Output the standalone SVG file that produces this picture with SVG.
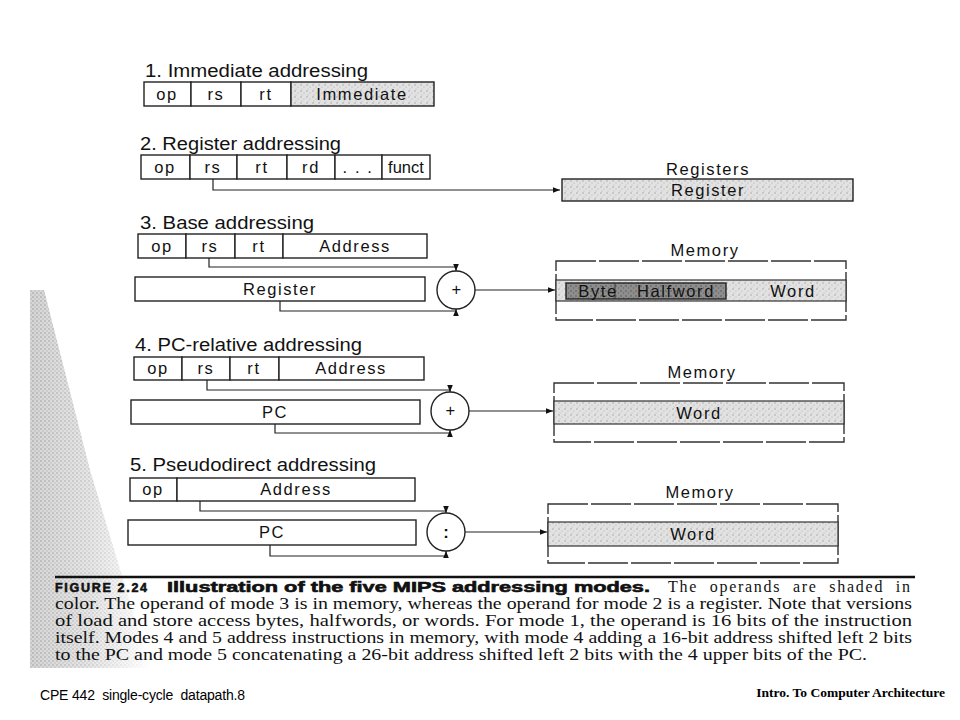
<svg xmlns="http://www.w3.org/2000/svg" width="960" height="720" viewBox="0 0 960 720">
<defs>
<pattern id="stip" width="6" height="6" patternUnits="userSpaceOnUse">
<rect width="6" height="6" fill="#e2e2e2"/>
<circle cx="1" cy="1" r="0.7" fill="#9a9a9a"/>
<circle cx="4" cy="3" r="0.6" fill="#aaaaaa"/>
<circle cx="2" cy="5" r="0.5" fill="#b0b0b0"/>
</pattern>
<pattern id="stipDark" width="5" height="5" patternUnits="userSpaceOnUse">
<rect width="5" height="5" fill="#8e8e8e"/>
<circle cx="1" cy="1" r="0.8" fill="#555"/>
<circle cx="3.5" cy="3" r="0.7" fill="#666"/>
</pattern>
<pattern id="edgeDots" width="4" height="4" patternUnits="userSpaceOnUse">
<circle cx="1" cy="1" r="0.8" fill="#999"/>
<circle cx="3" cy="3" r="0.7" fill="#aaa"/>
</pattern>
<linearGradient id="fade" x1="0" y1="0" x2="1" y2="0">
<stop offset="0" stop-color="#fff"/>
<stop offset="0.5" stop-color="#999"/>
<stop offset="1" stop-color="#000"/>
</linearGradient>
<mask id="fadeMask" maskContentUnits="userSpaceOnUse">
<rect x="30" y="290" width="120" height="380" fill="url(#fade)"/>
</mask>
<marker id="arr" viewBox="0 0 10 10" refX="10" refY="5" markerWidth="7" markerHeight="7" orient="auto" markerUnits="userSpaceOnUse">
<path d="M0,1 L10,5 L0,9 z" fill="#111"/>
</marker>
</defs>
<style>
.t{font-family:"Liberation Sans",Arial,sans-serif;font-size:16.5px;fill:#111;letter-spacing:1.6px}
.h{font-family:"Liberation Sans",Arial,sans-serif;font-size:17.5px;fill:#111}
.c{text-anchor:middle}
.b{fill:#fff;stroke:#222;stroke-width:1.4}
.s{fill:url(#stip);stroke:#222;stroke-width:1.4}
.mem{fill:#fff;stroke:#333;stroke-width:1.4;stroke-dasharray:40 3}
.w{stroke:#222;stroke-width:1.2;fill:none}
.cap{font-family:"Liberation Serif","Times New Roman",serif;font-size:16px;fill:#111}
.capb{font-family:"Liberation Sans",Arial,sans-serif;font-size:14.5px;font-weight:bold;fill:#111;stroke:#111;stroke-width:0.6}
</style>
<rect width="960" height="720" fill="#fff"/>
<polygon points="30,290 44,290 90,470 150,668 30,668" fill="#d6d6d6" mask="url(#fadeMask)"/>
<polygon points="30,290 44,290 90,470 150,668 30,668" fill="url(#edgeDots)" mask="url(#fadeMask)"/>

<g id="mode1">
<text class="h" x="145" y="77" textLength="223" lengthAdjust="spacingAndGlyphs">1.  Immediate addressing</text>
<rect class="b" x="144" y="82" width="47" height="24"/>
<rect class="b" x="191" y="82" width="50" height="24"/>
<rect class="b" x="241" y="82" width="50" height="24"/>
<rect class="s" x="291" y="82" width="143" height="24"/>
<text class="t c" x="167" y="100">op</text>
<text class="t c" x="216" y="100">rs</text>
<text class="t c" x="266" y="100">rt</text>
<text class="t c" x="362" y="100">Immediate</text>
</g>

<g id="mode2">
<text class="h" x="140" y="150" textLength="201" lengthAdjust="spacingAndGlyphs">2. Register addressing</text>
<rect class="b" x="141" y="155" width="49" height="24"/>
<rect class="b" x="190" y="155" width="47" height="24"/>
<rect class="b" x="237" y="155" width="50" height="24"/>
<rect class="b" x="287" y="155" width="48" height="24"/>
<rect class="b" x="335" y="155" width="47" height="24"/>
<rect class="b" x="382" y="155" width="48" height="24"/>
<text class="t c" x="165" y="173">op</text>
<text class="t c" x="213" y="173">rs</text>
<text class="t c" x="262" y="173">rt</text>
<text class="t c" x="311" y="173">rd</text>
<text class="t c" x="358" y="173">. . .</text>
<text class="t c" x="406" y="173" style="letter-spacing:0">funct</text>
</g>
<g id="registers">
<text class="t c" x="708" y="175">Registers</text>
<rect class="s" x="562" y="179" width="291" height="22"/>
<text class="t c" x="708" y="196">Register</text>
</g>

<g id="mode3">
<text class="h" x="140" y="229" textLength="174" lengthAdjust="spacingAndGlyphs">3.  Base addressing</text>
<rect class="b" x="138" y="234" width="48" height="24"/>
<rect class="b" x="186" y="234" width="49" height="24"/>
<rect class="b" x="235" y="234" width="48" height="24"/>
<rect class="b" x="283" y="234" width="144" height="24"/>
<text class="t c" x="162" y="252">op</text>
<text class="t c" x="210" y="252">rs</text>
<text class="t c" x="259" y="252">rt</text>
<text class="t c" x="355" y="252">Address</text>
<rect class="b" x="135" y="277" width="290" height="24"/>
<text class="t c" x="280" y="295">Register</text>
<circle class="b" cx="456" cy="290" r="19"/>
<text class="t c" x="457" y="295">+</text>
</g>
<g id="memory3">
<text class="t c" x="705" y="256">Memory</text>
<rect class="mem" x="556" y="261" width="290" height="59"/>
<rect x="556" y="280" width="290" height="21" fill="url(#stip)" stroke="#333" stroke-width="1.2"/>
<rect x="566" y="283" width="160" height="16" fill="url(#stipDark)" stroke="#222" stroke-width="1.4"/>
<line x1="615" y1="283" x2="615" y2="299" stroke="#333" stroke-width="1"/>
<text class="t c" x="598" y="297">Byte</text>
<text class="t c" x="676" y="297">Halfword</text>
<text class="t c" x="793" y="297">Word</text>
</g>

<g id="mode4">
<text class="h" x="135" y="351" textLength="227" lengthAdjust="spacingAndGlyphs">4.  PC-relative addressing</text>
<rect class="b" x="134" y="357" width="48" height="23"/>
<rect class="b" x="182" y="357" width="48" height="23"/>
<rect class="b" x="230" y="357" width="49" height="23"/>
<rect class="b" x="279" y="357" width="145" height="23"/>
<text class="t c" x="158" y="374">op</text>
<text class="t c" x="206" y="374">rs</text>
<text class="t c" x="254" y="374">rt</text>
<text class="t c" x="351" y="374">Address</text>
<rect class="b" x="131" y="400" width="289" height="24"/>
<text class="t c" x="275" y="418">PC</text>
<circle class="b" cx="450" cy="411" r="19"/>
<text class="t c" x="451" y="416">+</text>
</g>
<g id="memory4">
<text class="t c" x="702" y="378">Memory</text>
<rect class="mem" x="554" y="383" width="290" height="59"/>
<rect x="554" y="401" width="290" height="23" fill="url(#stip)" stroke="#333" stroke-width="1.2"/>
<text class="t c" x="699" y="419">Word</text>
</g>

<g id="mode5">
<text class="h" x="130" y="471" textLength="246" lengthAdjust="spacingAndGlyphs">5.  Pseudodirect addressing</text>
<rect class="b" x="130" y="478" width="47" height="23"/>
<rect class="b" x="177" y="478" width="238" height="23"/>
<text class="t c" x="153" y="495">op</text>
<text class="t c" x="296" y="495">Address</text>
<rect class="b" x="128" y="520" width="288" height="25"/>
<text class="t c" x="272" y="538">PC</text>
<circle class="b" cx="446" cy="532" r="19"/>
<text class="t c" x="446" y="538" style="font-weight:bold;letter-spacing:0">:</text>
</g>
<g id="memory5">
<text class="t c" x="700" y="498">Memory</text>
<rect class="mem" x="548" y="504" width="290" height="59"/>
<rect x="548" y="522" width="290" height="24" fill="url(#stip)" stroke="#333" stroke-width="1.2"/>
<text class="t c" x="693" y="540">Word</text>
</g>

<g id="connectors">
<polyline class="w" points="213,179 213,190 560,190" marker-end="url(#arr)"/>
<polyline class="w" points="209,258 209,267 456,267 456,271" marker-end="url(#arr)"/>
<polyline class="w" points="280,301 280,311 456,311 456,309" marker-end="url(#arr)"/>
<line class="w" x1="475" y1="290" x2="555" y2="290" marker-end="url(#arr)"/>
<polyline class="w" points="207,380 207,390 450,390 450,392" marker-end="url(#arr)"/>
<polyline class="w" points="275,424 275,433 450,433 450,430" marker-end="url(#arr)"/>
<line class="w" x1="469" y1="411" x2="553" y2="411" marker-end="url(#arr)"/>
<polyline class="w" points="200,501 200,511 446,511 446,513" marker-end="url(#arr)"/>
<polyline class="w" points="270,545 270,556 446,556 446,551" marker-end="url(#arr)"/>
<line class="w" x1="465" y1="532" x2="547" y2="532" marker-end="url(#arr)"/>
</g>

<g id="caption">
<line x1="55" y1="577" x2="915" y2="577" stroke="#111" stroke-width="2.5"/>
<text class="capb" x="55" y="592" textLength="92" lengthAdjust="spacing" style="font-size:12.5px">FIGURE 2.24</text>
<text class="capb" x="167" y="592" textLength="483" lengthAdjust="spacingAndGlyphs">Illustration of the five MIPS addressing modes.</text>
<text class="cap" x="668" y="592" textLength="242" lengthAdjust="spacing" style="word-spacing:6px">The operands are shaded in</text>
<text class="cap" x="55" y="609" textLength="857" lengthAdjust="spacingAndGlyphs">color. The operand of mode 3 is in memory, whereas the operand for mode 2 is a register. Note that versions</text>
<text class="cap" x="55" y="626" textLength="857" lengthAdjust="spacingAndGlyphs">of load and store access bytes, halfwords, or words. For mode 1, the operand is 16 bits of the instruction</text>
<text class="cap" x="55" y="643" textLength="857" lengthAdjust="spacingAndGlyphs">itself. Modes 4 and 5 address instructions in memory, with mode 4 adding a 16-bit address shifted left 2 bits</text>
<text class="cap" x="55" y="660" textLength="812" lengthAdjust="spacingAndGlyphs">to the PC and mode 5 concatenating a 26-bit address shifted left 2 bits with the 4 upper bits of the PC.</text>
</g>

<g id="footer">
<text x="40" y="700" textLength="205" lengthAdjust="spacing" xml:space="preserve" style="font-family:'Liberation Sans',Arial,sans-serif;font-size:14px;fill:#000">CPE 442  single-cycle  datapath.8</text>
<text x="945" y="697" text-anchor="end" style="font-family:'Liberation Serif','Times New Roman',serif;font-size:13.5px;font-weight:bold;fill:#000">Intro. To Computer Architecture</text>
</g>
</svg>
